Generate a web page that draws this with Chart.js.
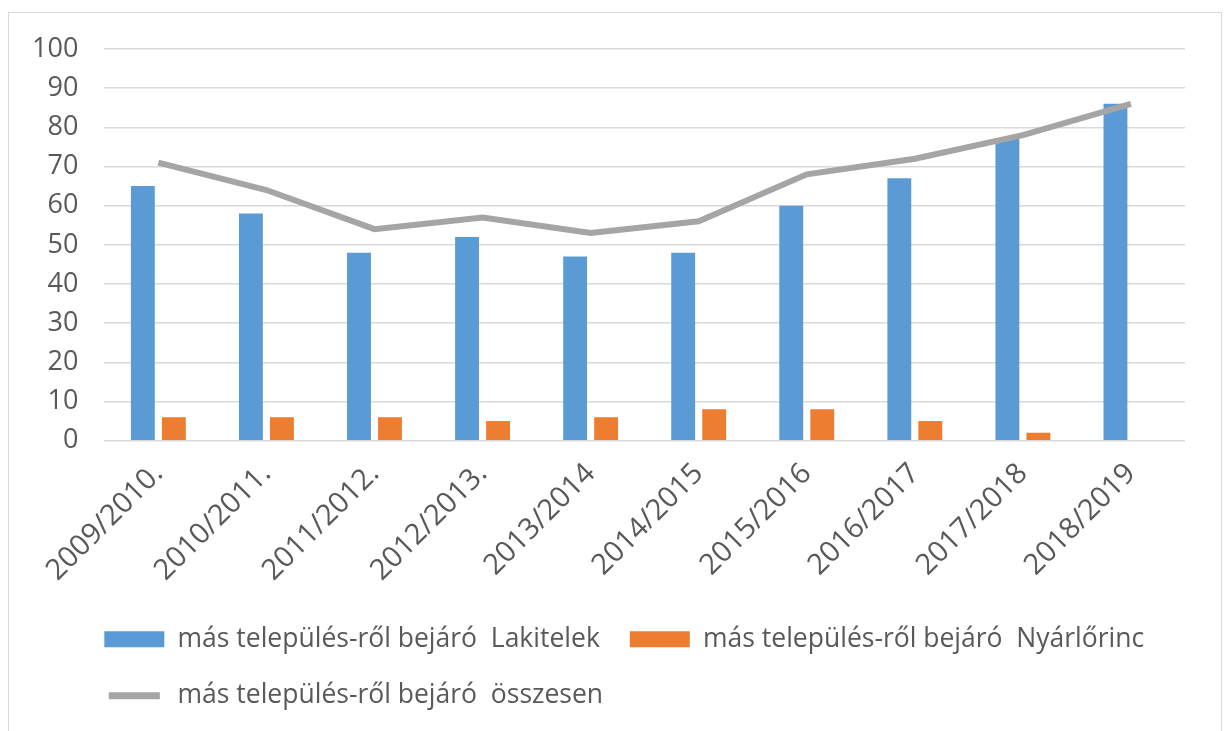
<!DOCTYPE html>
<html>
<head>
<meta charset="utf-8">
<script src="https://cdn.jsdelivr.net/npm/chart.js@4.4.1/dist/chart.umd.min.js"></script>
<style>
  html, body { margin: 0; padding: 0; background: #fff; }
  #frame { position: absolute; left: 8px; top: 12px; width: 1212px; height: 740px; border: 1px solid #d9d9d9; }
  #wrap { position: absolute; left: 0; top: 0; width: 1227px; height: 731px; }
</style>
</head>
<body>
<div id="frame"></div>
<div id="wrap"><canvas id="chart"></canvas></div>
<script>
const labels = ["2009/2010.", "2010/2011.", "2011/2012.", "2012/2013.", "2013/2014", "2014/2015", "2015/2016", "2016/2017", "2017/2018", "2018/2019"]
const lakitelek = [65, 58, 48, 52, 47, 48, 60, 67, 77, 86]
const nyarlorinc = [6, 6, 6, 5, 6, 8, 8, 5, 2, null]
const osszesen = [71, 64, 54, 57, 53, 56, 68, 72, 78, 86]

const textColor = "#595959"
const family = "'Open Sans', sans-serif"

// legend rows start flush with the plot area, like the original
const legendShift = {
  id: "legendShift",
  afterLayout(chart) {
    const lg = chart.legend
    const pad = lg.options.labels.padding
    const dx = lg.left + pad - chart.chartArea.left
    lg.left -= dx
    lg.right -= dx
  },
}

new Chart(document.getElementById("chart"), {
  type: "bar",
  data: {
    labels: labels,
    datasets: [
      {
        type: "line",
        label: "más település-ről bejáró  összesen",
        data: osszesen,
        borderColor: "#a5a5a5",
        backgroundColor: "#a5a5a5",
        borderWidth: 6,
        pointRadius: 0,
        tension: 0,
        order: 0,
      },
      {
        label: "más település-ről bejáró  Lakitelek",
        data: lakitelek,
        backgroundColor: "#5b9bd5",
        categoryPercentage: 0.574,
        barPercentage: 0.77,
        order: 1,
      },
      {
        label: "más település-ről bejáró  Nyárlőrinc",
        data: nyarlorinc,
        backgroundColor: "#ed7d31",
        categoryPercentage: 0.574,
        barPercentage: 0.77,
        order: 1,
      },
    ],
  },
  plugins: [legendShift],
  options: {
    responsive: true,
    maintainAspectRatio: false,
    animation: false,
    layout: { padding: { top: 49, left: 6, right: 42, bottom: 12 } },
    scales: {
      x: {
        grid: { display: false },
        border: { display: false },
        ticks: { color: textColor, font: { family, size: 29 }, minRotation: 45, maxRotation: 45, padding: 8 },
      },
      y: {
        min: 0,
        max: 100,
        ticks: { stepSize: 10, autoSkip: false, color: textColor, font: { family, size: 27 }, padding: 26 },
        grid: { color: "#d9d9d9", lineWidth: 1.5, drawTicks: false },
        border: { display: false },
      },
    },
    plugins: {
      tooltip: { enabled: false },
      legend: {
        position: "bottom",
        align: "start",
        labels: {
          color: textColor,
          font: { family, size: 26.5 },
          boxWidth: 60,
          boxHeight: 16,
          padding: 30,
          generateLabels(chart) {
            const items = Chart.defaults.plugins.legend.labels.generateLabels(chart)
            const order = [1, 2, 0]
            const sorted = order.map(i => items.find(it => it.datasetIndex === i))
            sorted.forEach(it => {
              if (it.datasetIndex === 0) {
                it.fillStyle = "#a5a5a5"
                it.strokeStyle = "#ffffff"
                it.lineWidth = 9
              } else {
                it.lineWidth = 0
              }
            })
            return sorted
          },
        },
      },
    },
  },
})
</script>
</body>
</html>
